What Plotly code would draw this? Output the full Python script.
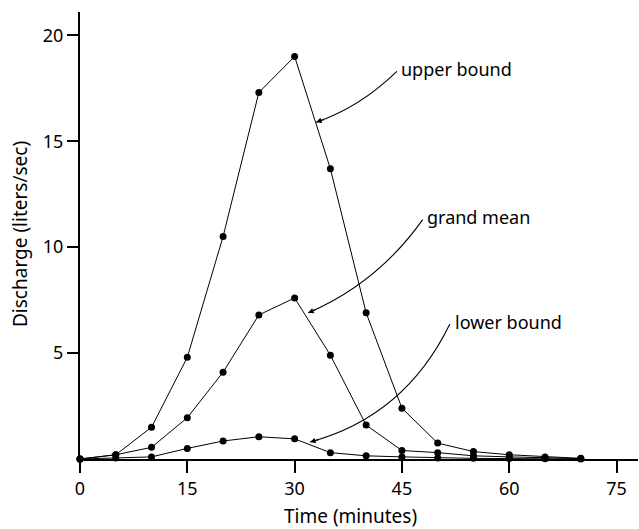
import plotly.graph_objects as go

time_min = [0, 5, 10, 15, 20, 25, 30, 35, 40, 45, 50, 55, 60, 65, 70]
upper_bound = [0, 0.2, 1.5, 4.8, 10.5, 17.3, 19.0, 13.7, 6.9, 2.4, 0.75, 0.35, 0.2, 0.1, 0.03]
grand_mean = [0, 0.2, 0.55, 1.95, 4.1, 6.8, 7.6, 4.9, 1.6, 0.4, 0.3, 0.15, 0.1, 0.05, 0.02]
lower_bound = [0, 0.05, 0.1, 0.5, 0.85, 1.05, 0.95, 0.3, 0.15, 0.1, 0.05, 0.03, 0.02, 0.01, 0.0]

x_ticks = [0, 15, 30, 45, 60, 75]
y_ticks = [5, 10, 15, 20]

# label annotations: (text, text_x, text_y, curve_start, control, tip)
labels = [
    ("upper bound", 44.6, 18.4, (44.3, 18.3), (39.1, 16.6), (33.0, 15.9)),
    ("grand mean", 48.2, 11.43, (47.9, 11.3), (41.6, 8.3), (31.9, 6.9)),
    ("lower bound", 52.1, 6.47, (51.7, 6.37), (45.4, 2.0), (32.15, 0.8)),
]

FONT = "Noto Sans"
fig = go.Figure()
for name, ys in [("upper bound", upper_bound), ("grand mean", grand_mean), ("lower bound", lower_bound)]:
    fig.add_trace(go.Scatter(
        x=time_min, y=ys, mode="lines+markers", name=name,
        line=dict(color="black", width=1),
        marker=dict(color="black", size=7),
        cliponaxis=False, showlegend=False,
    ))

W, H = 639, 529
L, R, T, B = 80, 1, 12, 70
XR = [0, 78]
YR = [0, 21.1]
PW, PH = W - L - R, H - T - B
pxx = PW / (XR[1] - XR[0])
pxy = PH / (YR[1] - YR[0])

shapes = []
annotations = []
for text, tx, ty, s, c, e in labels:
    shapes.append(dict(
        type="path", xref="x", yref="y",
        path=f"M {s[0]},{s[1]} Q {c[0]},{c[1]} {e[0]},{e[1]}",
        line=dict(color="black", width=1.1),
    ))
    annotations.append(dict(
        x=tx, y=ty, xref="x", yref="y", text=text, showarrow=False,
        xanchor="left", yanchor="middle",
        font=dict(family=FONT, size=18, color="black"),
    ))
    dxp = (c[0] - e[0]) * pxx
    dyp = -(c[1] - e[1]) * pxy
    n = (dxp ** 2 + dyp ** 2) ** 0.5
    annotations.append(dict(
        x=e[0], y=e[1], xref="x", yref="y", text="", showarrow=True,
        ax=dxp / n * 10, ay=dyp / n * 10, arrowhead=2, arrowsize=1,
        arrowwidth=1.1, arrowcolor="black", standoff=0,
    ))

def paper_x(px):
    return (px - L) / PW

def paper_y(py):
    return (H - B - py) / PH

annotations.append(dict(
    x=paper_x(350), y=paper_y(516), xref="paper", yref="paper",
    text="Time (minutes)", showarrow=False, xanchor="center", yanchor="middle",
    font=dict(family=FONT, size=19, color="black"),
))
annotations.append(dict(
    x=paper_x(20), y=paper_y(234), xref="paper", yref="paper",
    text="Discharge (liters/sec)", showarrow=False, xanchor="center", yanchor="middle",
    textangle=-90, font=dict(family=FONT, size=19, color="black"),
))

fig.update_layout(
    width=W, height=H,
    margin=dict(l=L, r=R, t=T, b=B),
    plot_bgcolor="white", paper_bgcolor="white",
    shapes=shapes, annotations=annotations,
    xaxis=dict(range=XR, tickvals=x_ticks, ticktext=[str(v) for v in x_ticks],
               showgrid=False, zeroline=False, showline=True, linecolor="black", linewidth=2,
               ticks="outside", ticklen=12, tickcolor="black", tickwidth=1.5,
               tickfont=dict(family=FONT, size=18, color="black")),
    yaxis=dict(range=YR, tickvals=y_ticks, ticktext=[str(v) for v in y_ticks],
               showgrid=False, zeroline=False, showline=True, linecolor="black", linewidth=2,
               ticks="outside", ticklen=11, tickcolor="black", tickwidth=1.5,
               tickfont=dict(family=FONT, size=18, color="black")),
)

fig.write_html(
    "out.html",
    config={"displayModeBar": False},
    post_script="document.body.style.margin='0px';document.body.style.overflow='hidden';",
)
